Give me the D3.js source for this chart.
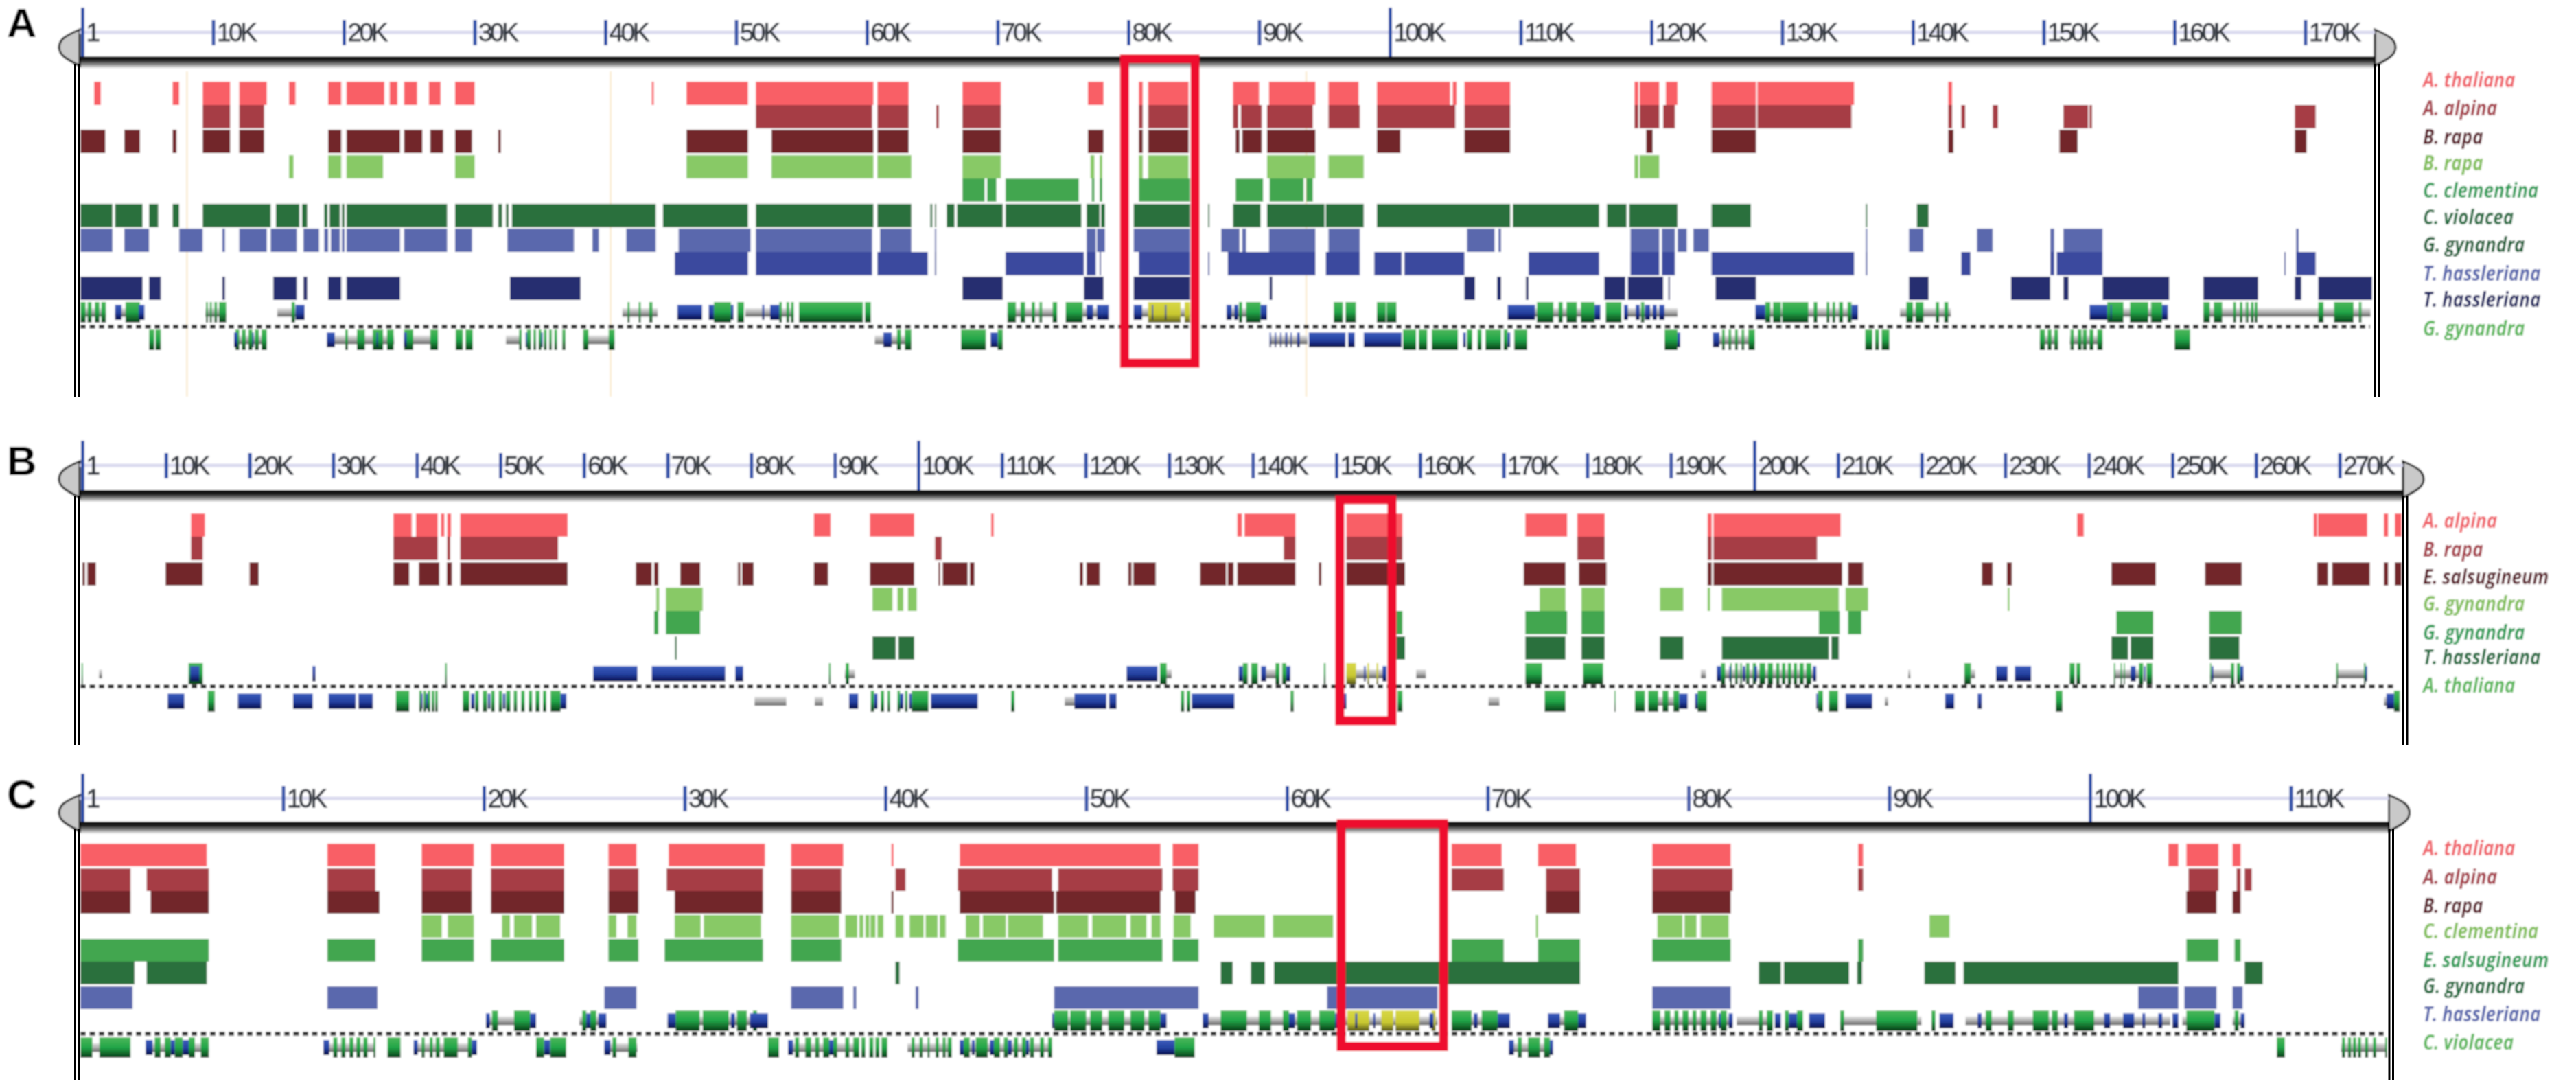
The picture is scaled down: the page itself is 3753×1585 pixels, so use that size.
<!DOCTYPE html>
<html>
<head>
<meta charset="utf-8">
<title>Synteny tracks</title>
<script src="https://cdn.jsdelivr.net/npm/d3@7"></script>
<style>
  html, body { margin: 0; padding: 0; background: #fff; }
  svg { display: block; }
</style>
</head>
<body>
<div id="chart"></div>
<script>
// all segment values are kilobases along the scaffold

// ── Panel A ──
const aTicks = [0.001,10,20,30,40,50,60,70,80,90,100,110,120,130,140,150,160,170];
const aNames = ['A. thaliana','A. alpina','B. rapa','B. rapa','C. clementina','C. violacea','G. gynandra','T. hassleriana','T. hassleriana','G. gynandra'];
const aFaint = [8.0,40.4,93.6];
const aBox = [79.7,85.1];
const aRow0 = [[0.9,1.4],[6.9,7.4],[9.2,11.3],[12,14.1],[15.8,16.3],[18.8,19.8],[20.2,23.1],[23.5,24.1],[24.6,25.6],[26.5,27.4],[28.5,30],[43.55,43.7],[46.2,50.9],[51.5,60.5],[60.8,63.2],[67.3,70.25],[76.9,78.1],[80.8,81.1],[81.5,84.6],[88,90],[90.75,94.3],[95.3,97.6],[99,104.6],[104.8,105.1],[105.7,109.2],[118.7,119],[119.1,120.6],[121.1,122],[124.6,128],[128.1,135.5],[142.7,143]];
const aRow1 = [[9.2,11.3],[12,13.9],[51.5,60.4],[60.8,63.2],[65.3,65.5],[67.3,70.25],[80.8,81.1],[81.5,84.6],[88,88.4],[88.6,90.2],[90.6,94.1],[95.3,97.7],[99,105],[105.7,109.2],[118.7,119],[119.1,120.6],[120.9,121.8],[124.6,128],[128.1,135.3],[142.7,143],[143.7,144],[146.1,146.5],[151.5,153.4],[153.5,153.7],[169.2,170.8]];
const aRow2 = [[-0.15,1.75],[3.2,4.4],[6.9,7.2],[9.2,11.3],[12,13.9],[18.8,19.8],[20.2,24.3],[24.6,26],[26.6,27.6],[28.5,29.8],[31.8,32],[46.2,50.9],[52.7,60.5],[60.8,63.2],[67.3,70.25],[76.9,78.1],[80.8,81.1],[81.5,84.6],[88.2,88.5],[88.7,90.2],[90.6,94.3],[99,100.8],[105.7,109.2],[119.6,120.1],[124.6,128],[142.7,143.1],[151.2,152.6],[169.2,170.1]];
const aRow3 = [[15.8,16.15],[18.8,19.8],[20.2,23],[28.5,30],[46.2,50.9],[52.7,60.5],[60.8,63.4],[67.3,70.25],[77.1,77.4],[77.8,78],[80.8,81.1],[81.5,84.6],[90.6,94.3],[95.3,98],[118.7,119],[119.1,120.6]];
const aRow4 = [[67.3,69],[69.2,69.9],[70.6,76.2],[77.2,77.4],[77.8,78],[80.8,84.7],[88.2,90.3],[90.8,93.4],[93.6,94.1]];
const aRow5 = [[-0.15,2.3],[2.5,4.6],[5.1,5.8],[6.9,7.4],[9.2,14.4],[14.8,16.6],[16.8,17.2],[18.5,18.75],[18.9,19.7],[19.85,20.05],[20.2,27.9],[28.5,31.4],[31.8,32.1],[32.4,32.6],[32.85,43.85],[44.4,50.9],[51.5,60.5],[60.8,63.4],[64.85,65],[65.2,65.3],[66.1,66.7],[66.9,70.4],[70.6,76.4],[76.8,77.8],[77.9,78.2],[80.4,84.7],[86.1,86.2],[88,90.1],[90.6,95],[95.1,98],[99,109.2],[109.4,116],[116.6,118.1],[118.3,122],[124.6,127.6],[136.4,136.5],[140.3,141.2]];
const aRow6 = [[-0.15,2.3],[3.2,5.1],[7.4,9.2],[10.7,10.9],[12,14.1],[14.4,16.4],[16.9,18.1],[18.5,18.8],[19,19.7],[19.85,20.05],[20.2,24.3],[24.6,27.9],[28.5,29.8],[32.5,37.6],[39,39.5],[41.6,43.85],[45.6,51.1],[51.5,60.4],[61,63.4],[65.2,65.3],[76.8,77.5],[77.6,78.2],[80.4,84.7],[87.1,88.5],[88.7,89],[90.75,94.3],[95.3,97.7],[105.9,108],[108.3,108.5],[118.4,120.6],[120.8,121.8],[122,122.7],[123.2,124.4],[136.4,136.5],[139.7,140.8],[144.9,146.1],[150.5,150.8],[151.5,154.5],[169.3,169.5]];
const aRow7 = [[45.3,50.9],[51.5,60.4],[60.8,64.65],[65.2,65.3],[70.6,76.6],[76.8,77.5],[77.8,77.9],[80.8,84.7],[86.1,86.2],[87.6,94.3],[95.1,97.7],[98.8,100.9],[101.1,105.7],[110.6,116],[118.4,120.6],[120.8,121.8],[124.6,135.5],[136.4,136.5],[143.7,144.4],[150.5,150.8],[151,154.5],[168.4,168.5],[169.3,170.8]];
const aRow8 = [[-0.15,4.6],[5.1,6],[10.7,10.9],[14.6,16.4],[16.9,17.2],[18.8,19.8],[20.2,24.3],[32.7,38.1],[67.3,70.4],[76.6,78.1],[80.4,84.7],[90.8,91],[105.7,106.5],[108.2,108.5],[110.4,110.6],[116.4,118],[118.2,120.9],[121.3,121.4],[124.9,128],[139.7,141.2],[147.5,150.5],[151.5,151.9],[154.5,159.6],[162.2,166.4],[169.2,169.7],[171,175.1]];
const aFwdIntron = [[-0.1,1.8],[2.5,4.6],[9.4,11],[14.9,16.5],[41.3,44],[50.7,54.4],[70.75,74.5],[76.5,78],[80.4,84.7],[87.5,90],[111,116],[118,122],[128.7,135.3],[139,142.9],[154.9,159],[162.2,175]];
const aFwdExon = [[-0.15,0.25],[0.4,0.7],[0.95,1.3],[1.45,1.8],[3.3,4.4],[9.45,9.6],[9.75,9.9],[10.1,10.3],[10.45,11],[16,16.25],[41.7,41.85],[42.55,42.7],[43.35,43.6],[48.3,49.6],[50.1,50.6],[53.3,53.5],[53.85,54.05],[54.2,54.4],[54.8,59.7],[59.85,60.3],[70.75,71.4],[71.75,72.1],[72.6,72.85],[73.2,73.4],[74.2,74.55],[75.2,76.5],[88.45,88.7],[89,90.1],[95.7,96.4],[96.6,97.4],[99,99.7],[99.75,100.5],[111.25,112.5],[112.9,113.2],[113.5,114.3],[114.6,115.65],[116.5,117.7],[119.2,119.45],[128.7,129.1],[129.3,129.9],[130,132],[132.4,132.7],[133.4,133.6],[133.85,134.05],[134.35,134.65],[135,135.3],[139.5,140],[140.2,140.8],[141.75,142],[142.4,142.7],[154.85,156.1],[156.6,158],[158.2,159.05],[162.2,162.7],[163,163.65],[164.5,164.7],[165,165.2],[165.45,165.65],[165.85,166.05],[166.15,166.35],[171,171.4],[172.2,173.7],[174.1,174.3]];
const aFwdCds = [[2.5,3],[4.3,4.75],[16.3,17],[45.5,47.4],[47.9,48.3],[49.6,49.8],[52,52.15],[52.6,53.3],[76.8,77.3],[77.6,78],[78,78.5],[80.4,81.05],[81.8,81.9],[82.8,82.9],[87.5,87.9],[88.1,88.4],[90.1,90.6],[109,111.1],[115.65,116.1],[117.9,118.2],[118.8,119.1],[119.5,119.9],[120.1,120.4],[120.6,121],[127.95,128.7],[135.3,135.8],[153.5,154.85],[155.1,155.2],[159.05,159.5]];
const aFwdYellow = [[81.5,84],[84.3,84.7]];
const aRevIntron = [[11.6,14.1],[18.7,23.85],[24.6,27.2],[32.4,33.5],[38.3,40.7],[60.6,63.4],[90.8,93.7],[124.9,127.9],[149.7,151.1],[152,154.5]];
const aRevExon = [[5.1,5.5],[5.6,6],[11.7,12],[12.2,12.5],[12.7,13],[13.2,13.5],[13.7,14.1],[20.1,20.3],[21,21.6],[22.2,23],[23.3,23.8],[24.6,25.3],[26.6,27.2],[28.55,29.1],[29.3,29.85],[33.4,33.6],[34,34.3],[34.5,34.7],[34.9,35.1],[35.3,35.5],[35.7,35.9],[36.1,36.3],[36.7,36.95],[38.3,38.7],[40.25,40.7],[62.3,62.6],[62.9,63.4],[67.2,69.1],[70,70.4],[101,102],[102.2,102.85],[103.2,105.2],[105.9,106.3],[106.7,107],[107.3,108.5],[108.7,109],[109.5,110.5],[121,122],[125.4,125.6],[125.9,126.1],[126.4,126.6],[126.9,127.1],[127.4,127.9],[136.35,136.9],[137.1,137.4],[137.6,138.2],[149.7,150.1],[150.3,150.6],[150.8,151.1],[152.05,152.3],[152.6,152.9],[153,153.3],[153.5,153.8],[154.1,154.5],[160,161.2]];
const aRevCds = [[11.6,11.85],[13,13.1],[18.7,19.3],[22.5,22.6],[24.6,24.8],[33.9,34],[35.1,35.2],[61.25,61.9],[69.45,70],[90.8,90.9],[91.2,91.3],[91.6,91.7],[92,92.15],[92.4,92.5],[92.9,93.1],[93.8,96.6],[96.8,97.3],[98,100.9],[105.6,105.8],[109,109.2],[122,122.2],[124.7,125.2]];

// ── Panel B ──
const bTicks = [0.001,10,20,30,40,50,60,70,80,90,100,110,120,130,140,150,160,170,180,190,200,210,220,230,240,250,260,270];
const bNames = ['A. alpina','B. rapa','E. salsugineum','G. gynandra','G. gynandra','T. hassleriana','A. thaliana'];
const bBox = [150.4,156.65];
const bRow0 = [[13,14.66],[37.2,39.4],[39.9,42.5],[42.9,43.3],[43.65,44.1],[45.2,58.05],[87.5,89.5],[94.2,99.5],[108.7,109],[138.15,138.7],[139,145.1],[151.2,157.9],[172.6,177.6],[178.8,182.1],[194.4,194.9],[195.1,210.3],[238.6,239.4],[266.9,267.3],[267.4,273.3],[275.3,275.8],[276.6,277.4]];
const bRow1 = [[13,14.4],[37.2,42.5],[43.65,44],[45.2,56.9],[102,102.8],[143.7,145.1],[151.2,157.9],[178.8,182.1],[194.4,194.9],[195.1,207.5]];
const bRow2 = [[0,0.3],[0.6,1.6],[9.95,14.4],[20,21.1],[37.2,39.1],[40.25,42.7],[43.6,44.2],[45.2,58.05],[66.2,68.1],[68.4,68.9],[71.5,73.9],[78.4,78.7],[78.9,80.3],[87.5,89.2],[94.2,99.5],[102.4,102.6],[102.9,105.9],[106.15,106.7],[119.3,119.7],[120.1,121.7],[125.1,125.5],[125.7,128.4],[133.7,136.8],[137,137.7],[138.15,145.1],[147.9,148.2],[151.2,158.2],[172.4,177.4],[179,182.3],[194.4,194.9],[195.1,210.5],[211.2,213],[227.2,228.5],[230.2,230.8],[242.7,248],[253.9,258.3],[267.3,268.6],[269.1,273.6],[275.3,275.8],[276.6,277.4]];
const bRow3 = [[68.65,69],[69.8,74.2],[94.5,96.9],[97.5,98.2],[98.75,99.8],[174.3,177.4],[179.3,182.1],[188.7,191.5],[194.4,194.7],[196.1,210.1],[210.9,213.6],[230.3,230.5]];
const bRow4 = [[68.4,68.9],[69.8,73.9],[157.2,157.9],[172.6,177.6],[179.3,182.1],[207.7,210.2],[211.2,212.8],[243.3,247.7],[254.4,258.3]];
const bRow5 = [[70.9,71.1],[94.5,97.3],[97.6,99.5],[157.2,158.2],[172.6,177.4],[179.3,182.1],[188.7,191.5],[196.1,208.9],[209.2,210.1],[242.7,244.7],[245,247.7],[254.4,258]];
const bFwdIntron = [[2,2.35],[91.2,92.4],[129.7,130.3],[141.6,143],[151.2,155.7],[159.55,160.7],[193.6,194.2],[195.5,207.4],[218.4,218.65],[225.9,226.4],[243,246],[254.5,257],[269.6,273.2]];
const bFwdExon = [[-0.1,0.05],[12.7,14.4],[43.4,43.6],[89.3,89.5],[91.3,91.7],[128.9,129.7],[138.8,139.4],[139.8,140.6],[142.7,143.2],[143.5,144],[148.5,148.7],[172.6,174.6],[179.5,181.9],[196,196.5],[197.1,197.3],[197.7,198],[198.3,198.5],[199,199.4],[199.8,200.2],[200.6,201.3],[201.6,202.2],[202.6,203],[203.3,203.7],[204,204.4],[204.7,205.1],[205.4,205.9],[206.2,206.8],[225.1,225.9],[237.7,238.3],[238.5,239],[243,243.15],[243.8,243.95],[244.2,244.3],[246,246.5],[246.9,247.6],[254.5,254.65],[257,257.4],[257.7,258.1],[269.6,269.8],[272.9,273.1]];
const bFwdCds = [[12.9,14],[27.5,27.9],[61.1,66.4],[68.1,76.9],[78.1,79.05],[124.9,128.6],[138.3,138.8],[141,141.6],[144,144.5],[153.3,153.5],[155.5,156],[195.5,196],[197,197.2],[198.6,198.9],[200,200.3],[207,207.4],[228.9,230.3],[231.15,233.1],[245,245.6],[246.6,246.8],[258.1,258.5],[254.7,254.9],[273.1,273.3]];
const bFwdYellow = [[151.2,152.35],[153.7,153.9],[154.8,155]];
const bRevIntron = [[80.4,84.2],[87.6,88.6],[117.5,118.65],[168.2,169.5],[188.5,190.3],[215.6,216],[275.3,276.5]];
const bRevExon = [[15,15.85],[37.5,39.1],[40.3,40.6],[40.8,41.1],[41.3,41.6],[41.8,42.1],[42.2,42.5],[45.5,46.3],[47,47.4],[47.9,48.4],[48.9,49.3],[49.8,50.2],[50.7,51.2],[51.6,52],[52.5,52.9],[53.4,53.8],[54.2,54.7],[55.1,55.5],[56,57.2],[94.3,94.7],[95.5,95.9],[96.3,96.6],[97.5,97.8],[98.4,98.7],[99.2,101.2],[111.1,111.5],[131.4,131.8],[132.1,132.5],[144.5,144.9],[157.3,157.9],[174.9,177.4],[183.25,183.4],[185.7,186.9],[187.3,188.5],[189,189.7],[190.3,191],[193.2,194.3],[207.6,208.2],[208.9,210],[236.05,236.85],[276.5,277.2]];
const bRevCds = [[10.2,12.2],[18.6,21.4],[25.2,27.55],[29.45,32.7],[33,34.75],[40.5,40.7],[41.1,41.3],[46.5,46.9],[48.5,48.8],[50.3,50.6],[57.2,57.9],[91.7,92.8],[94.7,95.1],[97.8,98.2],[98.9,99.2],[101.5,107.1],[118.65,122.5],[122.8,123.7],[132.7,137.8],[150.9,151.2],[191,192],[192.9,193.2],[207.4,207.6],[210.9,214.1],[222.8,223.9],[226.7,227.2],[275.6,276.5]];

// ── Panel C ──
const cTicks = [0.001,10,20,30,40,50,60,70,80,90,100,110];
const cNames = ['A. thaliana','A. alpina','B. rapa','C. clementina','E. salsugineum','G. gynandra','T. hassleriana','C. violacea'];
const cBox = [62.7,67.8];
const cRow0 = [[-0.1,6.2],[12.2,14.6],[16.9,19.5],[20.35,24],[26.2,27.6],[29.2,34],[35.3,37.9],[40.3,40.4],[43.7,53.7],[54.3,55.6],[68.2,70.7],[72.5,74.4],[78.2,82.1],[88.45,88.7],[103.9,104.4],[104.8,106.4],[107.1,107.5]];
const cRow1 = [[-0.1,2.4],[3.2,6.3],[12.2,14.6],[16.9,19.4],[20.35,24],[26.2,27.7],[29.1,33.9],[35.3,37.8],[40.5,41],[43.6,48.3],[48.6,53.8],[54.3,55.6],[68.2,70.8],[72.9,74.6],[78.2,82.2],[88.45,88.7],[104.9,106.4],[107.3,107.5],[107.7,108.05]];
const cRow2 = [[-0.1,2.4],[3.4,6.3],[12.2,14.8],[16.9,19.4],[20.35,24],[26.2,27.7],[29.5,33.9],[35.3,37.8],[40.3,40.4],[43.7,48.4],[48.5,53.7],[54.4,55.45],[72.9,74.6],[78.2,82.1],[104.8,106.3],[107.1,107.5]];
const cRow3 = [[16.9,17.9],[18.2,19.5],[20.9,21.3],[21.5,22.4],[22.6,23.8],[26.2,26.6],[27.15,27.6],[29.5,30.8],[30.95,33.8],[35.3,37.7],[38,38.6],[38.7,38.9],[39,39.2],[39.25,39.5],[39.6,39.9],[40.5,40.9],[41.2,41.9],[42,42.6],[42.7,43],[44,44.7],[44.85,46],[46.1,47.85],[48.6,50.1],[50.3,52],[52.2,53],[53.25,53.7],[54.35,55.2],[56.35,58.9],[59.3,62.3],[72.4,72.5],[78.45,79.7],[79.8,80.4],[80.6,82],[92,93]];
const cRow4 = [[-0.1,6.3],[12.2,14.6],[16.9,19.5],[20.35,24],[26.2,27.7],[29,33.9],[35.3,37.8],[43.6,48.4],[48.6,53.8],[54.3,55.6],[68.2,70.8],[72.5,74.6],[78.2,82.1],[88.45,88.7],[104.8,106.4],[107.2,107.5]];
const cRow5 = [[-0.1,2.6],[3.2,6.2],[40.5,40.7],[56.7,57.3],[58.2,58.9],[59.35,74.6],[83.5,84.6],[84.75,88],[88.4,88.65],[91.75,93.3],[93.7,104.4],[107.7,108.6]];
const cRow6 = [[-0.1,2.5],[12.2,14.7],[26,27.6],[35.3,37.9],[38.4,38.55],[41.5,41.65],[48.4,55.6],[62,67.5],[78.2,82.1],[102.4,104.4],[104.7,106.3],[107.1,107.6]];
const cFwdIntron = [[20.1,22.6],[24.75,26.1],[29.15,34.15],[48.3,54],[55.8,62.7],[62.9,67.5],[68.2,71],[73,74.8],[78.2,82.2],[82.4,84.1],[87.55,89.4],[91.4,91.6],[93.8,104],[104.6,106],[107.1,107.7]];
const cFwdExon = [[20.4,20.7],[21.5,22.3],[24.9,25.1],[25.3,25.6],[29.55,30.75],[30.9,32.2],[32.6,33.1],[33.4,33.6],[48.4,49.1],[49.2,50],[50.2,50.8],[51.1,51.9],[52.2,52.9],[53.1,53.7],[56.7,58],[58.6,59.2],[59.8,60.1],[60.5,61.2],[61.6,62.4],[68.2,69.2],[69.7,70.5],[73.8,74.5],[78.2,78.6],[78.8,79.1],[79.3,79.5],[79.7,80],[80.2,80.4],[80.6,80.9],[81.1,81.4],[81.6,81.9],[83.5,83.7],[83.9,84.2],[84.8,85],[85.4,85.7],[87.55,87.75],[89.35,91.4],[92.1,92.3],[94.8,95.1],[95.9,96.2],[97.15,97.95],[98.1,98.4],[99.2,100.2],[104.8,106.2],[107.2,107.4]];
const cFwdCds = [[20.1,20.3],[22.3,22.6],[25.1,25.3],[25.7,26.1],[29.15,29.55],[32.3,32.5],[33.25,34.15],[48.3,48.4],[53.7,54],[55.8,56.1],[60.1,60.4],[62.4,62.8],[63.4,63.5],[64.3,64.4],[67.1,67.3],[69.3,69.5],[70.5,71.1],[73,73.6],[74.5,74.9],[81.5,81.6],[82,82.2],[84.3,84.6],[85,85.4],[86,86.8],[92.5,93.2],[94.4,94.6],[98.7,98.9],[100.7,101],[101.65,102.2],[102.6,102.75],[103.4,103.6],[104.1,104.4],[106.2,106.5],[107.5,107.7]];
const cFwdYellow = [[63,64.1],[64.7,65.3],[65.4,66.6],[67.2,67.4]];
const cRevIntron = [[0.5,0.9],[3.15,6.3],[12,14.6],[16.5,19.6],[26,27.65],[35.15,38.7],[41.1,43.3],[43.7,48.3],[71.05,73.2],[112.5,114.8]];
const cRevExon = [[-0.1,0.5],[0.85,2.4],[3.6,3.9],[4.1,4.4],[4.6,5],[5.3,5.6],[5.9,6.3],[12.5,12.7],[12.9,13.1],[13.3,13.5],[13.65,13.85],[14,14.2],[14.5,14.6],[15.2,15.85],[16.9,17.05],[17.3,17.45],[17.6,17.8],[18,18.7],[19.2,19.4],[22.6,23],[23.3,24.1],[26.4,26.6],[27.2,27.6],[34.15,34.7],[35.5,35.7],[36,36.3],[36.5,36.7],[36.9,37.2],[37.4,37.6],[38,38.2],[38.4,38.7],[38.8,39],[39.2,39.4],[39.5,39.7],[39.8,40.1],[41.3,41.45],[41.7,41.85],[42.1,42.2],[42.5,42.65],[42.85,43],[43.1,43.3],[43.9,44.2],[44.5,45.1],[45.4,45.7],[45.9,46.1],[46.4,46.6],[46.8,47],[47.2,47.4],[47.7,47.9],[48.1,48.3],[54.4,55.4],[71.5,71.7],[72,72.6],[72.8,73.1],[109.3,109.7],[112.55,112.7],[112.85,113],[113.1,113.25],[113.35,113.5],[113.7,113.85],[114.1,114.25],[114.7,114.8]];
const cRevCds = [[3.15,3.5],[4.4,4.6],[5,5.3],[12,12.3],[16.5,16.7],[19.4,19.65],[23,23.3],[26,26.3],[35.15,35.4],[37.2,37.4],[43.7,43.9],[44.3,44.45],[45.2,45.4],[46.1,46.3],[47,47.15],[53.5,54.4],[71.05,71.3],[73.1,73.25]];

const rowColors = ['#F95F66','#A63E44','#72282C','#88C966','#42A650','#2A6F3C','#5A68AD','#3A4A9E','#252F6F'];

var svg = d3.select('#chart').append('svg')
    .attr('width', 3753)
    .attr('height', 1585);

var defs = svg.append('defs');

// the source is a soft raster, a small blur gets the same edges
defs.append('filter').attr('id', 'soft')
    .attr('x', 0).attr('y', 0).attr('width', 1).attr('height', 1)
    .attr('filterUnits', 'objectBoundingBox')
    .append('feGaussianBlur').attr('stdDeviation', 0.8);

function addGradient(id, stops) {
    var grad = defs.append('linearGradient').attr('id', id)
        .attr('x1', 0).attr('y1', 0).attr('x2', 0).attr('y2', 1);
    stops.forEach(function(s) {
        grad.append('stop').attr('offset', s[0]).attr('stop-color', s[1]);
    });
}

addGradient('exonFill', [[0, '#4CB85A'], [0.5, '#22A548'], [0.8, '#12652A'], [1, '#0C3A18']]);
addGradient('cdsFill', [[0, '#3A5CBC'], [0.55, '#24409F'], [0.85, '#101E66'], [1, '#0A1244']]);
addGradient('intronFill', [[0, '#E4E4E4'], [0.5, '#B0B0B0'], [1, '#5E5E5E']]);
addGradient('yellowFill', [[0, '#D8D848'], [0.6, '#C8C830'], [1, '#55551A']]);
addGradient('bandFill', [[0, '#0C0C0C'], [0.3, '#1A1A1A'], [0.65, '#8A8A8A'], [1, '#FFFFFF']]);

var root = svg.append('g').attr('filter', 'url(#soft)');
root.append('rect').attr('width', 3753).attr('height', 1585).attr('fill', '#fff');

// border lines stay out of the blur, they are crisp in the source
var sharp = svg.append('g');

// Genes: one track above or below the dashed strand line
function drawGeneTrack(g, x, top, h, intron, exon, cds, yellow) {
    function layer(list, fill, height) {
        g.selectAll(null).data(list).enter().append('rect')
            .attr('x', function(d) { return x(d[0]); })
            .attr('width', function(d) { return Math.max(1.5, x(d[1]) - x(d[0])); })
            .attr('y', top + (h - height) / 2)
            .attr('height', height)
            .attr('fill', fill);
    }
    layer(intron, 'url(#intronFill)', h * 0.42);
    layer(exon, 'url(#exonFill)', h);
    layer(yellow, 'url(#yellowFill)', h);
    layer(cds, 'url(#cdsFill)', h * 0.72);
}

function capPath(edge, dir, top, bottom) {
    var bulge = 30 * dir, mid = (top + bottom) / 2;
    return 'M' + edge + ',' + top
        + 'C' + (edge + bulge * 0.75) + ',' + (top + 10) + ' ' + (edge + bulge) + ',' + (mid - 12) + ' ' + (edge + bulge) + ',' + mid
        + 'C' + (edge + bulge) + ',' + (mid + 12) + ' ' + (edge + bulge * 0.5) + ',' + (bottom - 8) + ' ' + edge + ',' + bottom + 'Z';
}

function drawPanel(p) {
    var g = root.append('g');
    var x = d3.scaleLinear().domain(p.domain).range(p.range);

    // faint vertical guides behind the tracks
    g.selectAll(null).data(p.faint || []).enter().append('line')
        .attr('x1', function(d) { return x(d); })
        .attr('x2', function(d) { return x(d); })
        .attr('y1', p.bandTop + 22)
        .attr('y2', p.bottom)
        .attr('stroke', '#FAEBCF')
        .attr('stroke-width', 2.5);

    // synteny rows
    p.rows.forEach(function(row, i) {
        g.selectAll(null).data(row).enter().append('rect')
            .attr('x', function(d) { return x(d[0]); })
            .attr('width', function(d) { return Math.max(1.5, x(d[1]) - x(d[0])); })
            .attr('y', p.rowTops[i])
            .attr('height', p.rowH)
            .attr('fill', p.rowFill[i]);
    });

    drawGeneTrack(g, x, p.fwdTop, p.geneH, p.fwd[0], p.fwd[1], p.fwd[2], p.fwd[3]);
    drawGeneTrack(g, x, p.revTop, p.geneH, p.rev[0], p.rev[1], p.rev[2], []);

    // strand line
    g.append('line')
        .attr('x1', 117).attr('x2', p.dashEnd)
        .attr('y1', p.dashY).attr('y2', p.dashY)
        .attr('stroke', '#2A2A2A')
        .attr('stroke-width', 5.5)
        .attr('stroke-dasharray', '8 5.5');

    // scale bar
    g.append('rect')
        .attr('x', 116).attr('y', p.bandTop)
        .attr('width', p.rightLine - 116).attr('height', 18)
        .attr('fill', 'url(#bandFill)');

    g.append('path').attr('d', capPath(116, -1, p.capTop, p.capTop + 53))
        .attr('fill', '#C9C9C9').attr('stroke', '#000').attr('stroke-width', 3);
    g.append('path').attr('d', capPath(p.rightLine, 1, p.capTop, p.capTop + 53))
        .attr('fill', '#C9C9C9').attr('stroke', '#000').attr('stroke-width', 3);

    g.append('line')
        .attr('x1', 116).attr('x2', p.rightLine)
        .attr('y1', p.axisY).attr('y2', p.axisY)
        .attr('stroke', '#D9D9EF')
        .attr('stroke-width', 5);

    var axis = d3.axisBottom(x)
        .tickValues(p.ticks)
        .tickSize(37)
        .tickFormat(function(d) { return d < 1 ? '1' : d + 'K'; });

    var axisG = g.append('g')
        .attr('transform', 'translate(0,' + (p.axisY - 18) + ')')
        .call(axis);
    axisG.select('.domain').remove();
    axisG.selectAll('.tick line')
        .attr('stroke', '#2F4FA8')
        .attr('stroke-width', 5)
        .attr('y1', function(d) { return (d < 1 || d === 100 || d === 200) ? -18 : 0; })
        .attr('y2', function(d) { return (d < 1 || d === 100 || d === 200) ? p.bandTop - p.axisY + 18 : 37; });
    axisG.selectAll('.tick text')
        .attr('x', 5)
        .attr('y', 18)
        .attr('dy', '0.35em')
        .attr('text-anchor', 'start')
        .attr('fill', '#33373F')
        .attr('stroke', '#33373F')
        .attr('stroke-width', 0.8)
        .style('font-family', '"Liberation Sans", Arial, sans-serif')
        .style('font-size', '37px')
        .style('letter-spacing', '-3.5px');

    // double border lines on both ends
    [109.5, 115, p.rightLine + 0.5, p.rightLine + 6].forEach(function(lx) {
        sharp.append('line')
            .attr('x1', lx).attr('x2', lx)
            .attr('y1', p.capTop + 50).attr('y2', p.bottom)
            .attr('stroke', '#000')
            .attr('stroke-width', 3);
    });

    // red highlight
    g.append('rect')
        .attr('x', x(p.box[0]))
        .attr('width', x(p.box[1]) - x(p.box[0]))
        .attr('y', p.boxTop)
        .attr('height', p.boxBottom - p.boxTop)
        .attr('fill', 'none')
        .attr('stroke', '#EE0A2D')
        .attr('stroke-width', 13);

    // panel letter
    g.append('text')
        .attr('x', 10).attr('y', p.letterY)
        .attr('fill', '#000')
        .style('font-family', '"Liberation Sans", Arial, sans-serif')
        .style('font-weight', 700)
        .style('font-size', '60px')
        .text(p.letter);

    // species names
    g.selectAll(null).data(p.names).enter().append('text')
        .attr('x', 3530)
        .attr('y', function(d, i) { return p.nameY[i]; })
        .attr('dy', '0.36em')
        .attr('fill', function(d, i) { return p.nameFill[i]; })
        .style('font-family', '"Open Sans", sans-serif')
        .style('font-style', 'italic')
        .style('font-weight', 700)
        .style('font-size', '31px')
        .text(function(d) { return d; })
        .attr('textLength', function() { return this.getComputedTextLength() * 0.84; })
        .attr('lengthAdjust', 'spacingAndGlyphs');
}

drawPanel({
    letter: 'A', letterY: 54,
    domain: [0, 175], range: [120, 3453.75],
    ticks: aTicks, faint: aFaint, box: aBox,
    rows: [aRow0, aRow1, aRow2, aRow3, aRow4, aRow5, aRow6, aRow7, aRow8],
    rowFill: rowColors,
    rowTops: [119, 153, 189, 226, 260, 297, 333, 367, 403], rowH: 34,
    fwd: [aFwdIntron, aFwdExon, aFwdCds, aFwdYellow],
    rev: [aRevIntron, aRevExon, aRevCds],
    fwdTop: 440, revTop: 480, geneH: 30,
    dashY: 476, dashEnd: 3453,
    axisY: 47, bandTop: 82, capTop: 43, rightLine: 3460, bottom: 578,
    boxTop: 85.5, boxBottom: 529,
    names: aNames,
    nameY: [116, 157, 199, 237, 277, 316, 356, 398, 436, 478],
    nameFill: ['#F0636B', '#A63E48', '#5A1A25', '#82BF5A', '#2E9E58', '#1C6B3C', '#1D6038', '#5A68AD', '#1C2260', '#5DB85D']
});

drawPanel({
    letter: 'B', letterY: 692,
    domain: [0, 277], range: [120, 3493.9],
    ticks: bTicks, box: bBox,
    rows: [bRow0, bRow1, bRow2, bRow3, bRow4, bRow5],
    rowFill: rowColors,
    rowTops: [748, 782, 819, 856, 890, 927], rowH: 34,
    fwd: [bFwdIntron, bFwdExon, bFwdCds, bFwdYellow],
    rev: [bRevIntron, bRevExon, bRevCds],
    fwdTop: 966, revTop: 1006, geneH: 31,
    dashY: 1000, dashEnd: 3492,
    axisY: 678, bandTop: 714, capTop: 672, rightLine: 3501, bottom: 1085,
    boxTop: 728, boxBottom: 1050,
    names: bNames,
    nameY: [758, 800, 840, 879, 921, 957, 998],
    nameFill: ['#F0636B', '#A63E48', '#5A1A25', '#82BF5A', '#2E9E58', '#1C6B3C', '#5DB85D']
});

drawPanel({
    letter: 'C', letterY: 1178,
    domain: [0, 115], range: [120, 3483.75],
    ticks: cTicks, box: cBox,
    rows: [cRow0, cRow1, cRow2, cRow3, cRow4, cRow5, cRow6],
    rowFill: ['#F95F66', '#A63E44', '#72282C', '#88C966', '#42A650', '#2A6F3C', '#5A68AD'],
    rowTops: [1229, 1265, 1298, 1333, 1368, 1401, 1437], rowH: 33,
    fwd: [cFwdIntron, cFwdExon, cFwdCds, cFwdYellow],
    rev: [cRevIntron, cRevExon, cRevCds],
    fwdTop: 1472, revTop: 1511, geneH: 30,
    dashY: 1506, dashEnd: 3473,
    axisY: 1163, bandTop: 1197, capTop: 1158, rightLine: 3480.5, bottom: 1574,
    boxTop: 1200, boxBottom: 1524.5,
    names: cNames,
    nameY: [1235, 1277, 1319, 1356, 1398, 1436, 1477, 1518],
    nameFill: ['#F0636B', '#A63E48', '#5A1A25', '#82BF5A', '#2E9E58', '#1C6B3C', '#5A68AD', '#5DB85D']
});
</script>
</body>
</html>
